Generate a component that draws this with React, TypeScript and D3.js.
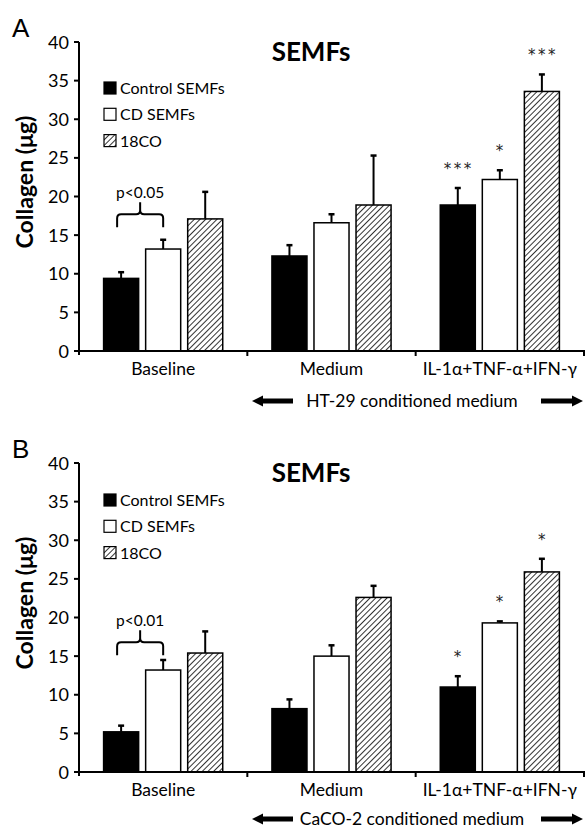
import * as d3 from "d3";
import React from "react";

// categories and series
const categories = ["Baseline", "Medium", "IL-1α+TNF-α+IFN-γ"];
const seriesNames = ["Control SEMFs", "CD SEMFs", "18CO"];
const yTicks = [0, 5, 10, 15, 20, 25, 30, 35, 40];

// panel A (HT-29 conditioned medium)
const aControl = [9.4, 12.3, 18.9];
const aControlErr = [0.8, 1.4, 2.2];
const aCD = [13.2, 16.6, 22.2];
const aCDErr = [1.2, 1.1, 1.2];
const a18CO = [17.1, 18.9, 33.6];
const a18COErr = [3.5, 6.4, 2.2];
const aStars = [["", "", "***"], ["", "", "*"], ["", "", "***"]];

// panel B (CaCO-2 conditioned medium)
const bControl = [5.2, 8.2, 11.0];
const bControlErr = [0.8, 1.2, 1.4];
const bCD = [13.2, 15.0, 19.3];
const bCDErr = [1.3, 1.4, 0.2];
const b18CO = [15.4, 22.6, 25.9];
const b18COErr = [2.8, 1.5, 1.7];
const bStars = [["", "", "*"], ["", "", "*"], ["", "", "*"]];

const FONT = "Lato, 'Noto Sans', 'DejaVu Sans', sans-serif";

const Panel = ({ top, letter, values, errs, stars, pLabel, bracketLevel, mediumLabel, legendY, arrowGap }) => {
  const x = d3.scaleBand().domain(categories).range([79, 584]).paddingInner(0).paddingOuter(0);
  const inner = d3.scaleBand().domain(seriesNames).range([0, x.bandwidth()]).paddingInner(1 / 6).paddingOuter(0.585);
  const y = d3.scaleLinear().domain([0, 40]).range([top + 309, top]);
  const bw = inner.bandwidth();
  const fills = ["#000", "#fff", "url(#hatch)"];

  const bracketL = x(categories[0]) + inner(seriesNames[0]) + bw / 2 - 4;
  const bracketR = x(categories[0]) + inner(seriesNames[1]) + bw / 2;
  const by = y(bracketLevel);
  const bm = (bracketL + bracketR) / 2;
  const r = 4;
  const bracketPath = `M${bracketL},${by + 13} V${by + r} Q${bracketL},${by} ${bracketL + r},${by} H${bm - r} Q${bm},${by} ${bm},${by - r} V${by - 12} M${bm},${by - r} Q${bm},${by} ${bm + r},${by} H${bracketR - r} Q${bracketR},${by} ${bracketR},${by + r} V${by + 13}`;

  const y0 = y(0);
  const arrowY = y0 + arrowGap;

  return (
    <g>
      <text x={12} y={top - 5} fontFamily="'Liberation Sans', Arial, sans-serif" fontSize={26}>{letter}</text>
      <text x={311} y={top + 19} textAnchor="middle" fontFamily={FONT} fontWeight="bold" fontSize={26}>SEMFs</text>
      <text transform={`translate(33,${top + 140}) rotate(-90)`} textAnchor="middle" fontFamily={FONT} fontWeight="bold" fontSize={23}>Collagen (μg)</text>

      {/* bars */}
      {seriesNames.map((s, si) =>
        categories.map((c, ci) => {
          const v = values[si][ci];
          const e = errs[si][ci];
          const bx = x(c) + inner(s);
          const cx = bx + bw / 2;
          return (
            <g key={s + c}>
              <line x1={cx} x2={cx} y1={y(v)} y2={y(v + e)} stroke="#000" strokeWidth={2} />
              <line x1={cx - 3} x2={cx + 3} y1={y(v + e)} y2={y(v + e)} stroke="#000" strokeWidth={2.5} />
              <rect x={bx} y={y(v)} width={bw} height={y0 - y(v)} fill={fills[si]} stroke="#000" strokeWidth={1.5} />
              {stars[si][ci] && (
                <text x={cx + 1} y={y(v + e) - 14} textAnchor="middle" fontFamily="'DejaVu Sans', sans-serif" fontSize={15} letterSpacing={2.5} fill="#222">{stars[si][ci]}</text>
              )}
            </g>
          );
        })
      )}

      {/* y axis */}
      <line x1={79} x2={79} y1={y(40)} y2={y0 + 4} stroke="#000" strokeWidth={2} />
      {yTicks.map((t) => (
        <g key={t}>
          <line x1={74} x2={79} y1={y(t)} y2={y(t)} stroke="#000" strokeWidth={2} />
          <text x={69} y={y(t) + 6.5} textAnchor="end" fontFamily={FONT} fontSize={18}>{t}</text>
        </g>
      ))}
      {/* x axis */}
      <line x1={78} x2={585} y1={y0} y2={y0} stroke="#000" strokeWidth={2} />
      {categories.map((c, i) => (
        <g key={c}>
          {i > 0 && <line x1={x(c)} x2={x(c)} y1={y0} y2={y0 + 5} stroke="#000" strokeWidth={2} />}
          <text x={x(c) + x.bandwidth() / 2} y={y0 + 24} textAnchor="middle" fontFamily={FONT} fontSize={17.5}>{c}</text>
        </g>
      ))}
      <line x1={584} x2={584} y1={y0} y2={y0 + 5} stroke="#000" strokeWidth={2} />

      {/* legend */}
      {seriesNames.map((s, i) => (
        <g key={s}>
          <rect x={104} y={legendY + i * 26.3 - 6} width={12} height={12} fill={fills[i]} stroke="#000" strokeWidth={1.2} />
          <text x={120} y={legendY + i * 26.3 + 6} fontFamily={FONT} fontSize={16}>{s}</text>
        </g>
      ))}

      {/* significance bracket */}
      <path d={bracketPath} fill="none" stroke="#000" strokeWidth={2} />
      <text x={bm} y={by - 16} textAnchor="middle" fontFamily={FONT} fontSize={15.5}>{pLabel}</text>

      {/* conditioned medium arrow row */}
      <polygon points={`252,${arrowY} 263,${arrowY - 5.5} 263,${arrowY - 2.5} 293,${arrowY - 2.5} 293,${arrowY + 2.5} 263,${arrowY + 2.5} 263,${arrowY + 5.5}`} fill="#000" />
      <polygon points={`583,${arrowY} 572,${arrowY - 5.5} 572,${arrowY - 2.5} 541,${arrowY - 2.5} 541,${arrowY + 2.5} 572,${arrowY + 2.5} 572,${arrowY + 5.5}`} fill="#000" />
      <text x={412} y={arrowY + 6} textAnchor="middle" fontFamily={FONT} fontSize={17.5}>{mediumLabel}</text>
    </g>
  );
};

export default function App() {
  return (
    <svg width={585} height={828} style={{ position: "absolute", left: 0, top: 0, background: "#fff" }}>
      <defs>
        <pattern id="hatch" patternUnits="userSpaceOnUse" width={4} height={4} patternTransform="rotate(45)">
          <rect width={4} height={4} fill="#fff" />
          <line x1={0} y1={0} x2={0} y2={4} stroke="#000" strokeWidth={1.6} />
        </pattern>
      </defs>
      <rect width={585} height={828} fill="#fff" />
      <Panel
        top={42}
        letter="A"
        values={[aControl, aCD, a18CO]}
        errs={[aControlErr, aCDErr, a18COErr]}
        stars={aStars}
        pLabel="p<0.05"
        bracketLevel={17.7}
        mediumLabel="HT-29 conditioned medium"
        legendY={88}
        arrowGap={50}
      />
      <Panel
        top={463}
        letter="B"
        values={[bControl, bCD, b18CO]}
        errs={[bControlErr, bCDErr, b18COErr]}
        stars={bStars}
        pLabel="p<0.01"
        bracketLevel={16.8}
        mediumLabel="CaCO-2 conditioned medium"
        legendY={500}
        arrowGap={47}
      />
    </svg>
  );
}
